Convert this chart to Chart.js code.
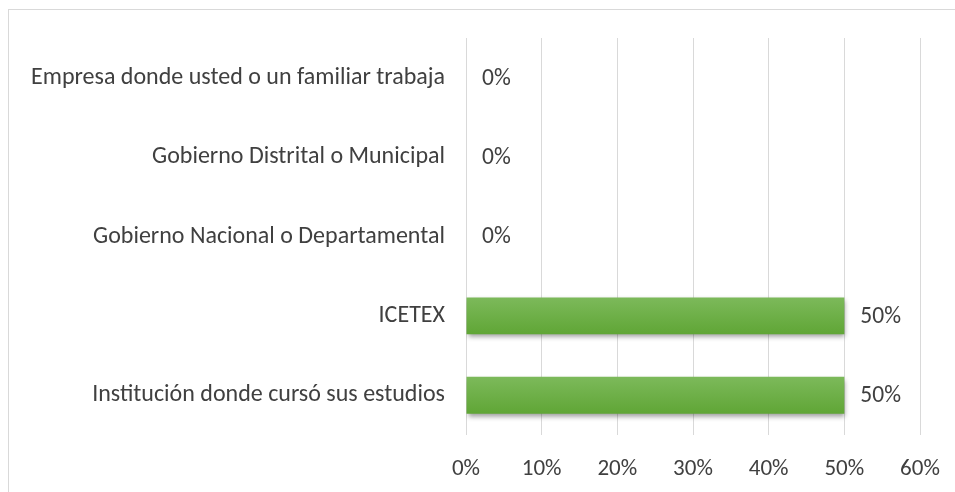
<!DOCTYPE html>
<html><head><meta charset="utf-8">
<script src="https://cdn.jsdelivr.net/npm/chart.js@4"></script>
<style>html,body{margin:0;padding:0;background:#fff}#w{width:955px;height:492px}</style>
</head><body><div id="w"><canvas id="c"></canvas></div>
<script>
const categories = [
  "Empresa donde usted o un familiar trabaja",
  "Gobierno Distrital o Municipal",
  "Gobierno Nacional o Departamental",
  "ICETEX",
  "Institución donde cursó sus estudios"
];
const values = [0, 0, 0, 0.5, 0.5];
const tickValues = [0, 0.1, 0.2, 0.3, 0.4, 0.5, 0.6];
const FONT = "Carlito, Calibri, Lato, sans-serif";

const framePlugin = {
  id: 'frame',
  beforeDraw(chart){
    const ctx = chart.ctx;
    ctx.save();
    ctx.strokeStyle = '#d9d9d9';
    ctx.lineWidth = 1;
    ctx.strokeRect(8.5, 9.5, 1200, 1200);
    ctx.restore();
  }
};
const shadowPlugin = {
  id: 'shadow',
  beforeDatasetsDraw(chart){
    const ctx = chart.ctx;
    ctx.save();
    ctx.shadowColor = 'rgba(0,0,0,0.4)';
    ctx.shadowBlur = 5;
    ctx.shadowOffsetX = 1;
    ctx.shadowOffsetY = 3;
  },
  afterDatasetsDraw(chart){
    chart.ctx.restore();
  }
};
const labelPlugin = {
  id: 'lbl',
  afterDatasetsDraw(chart){
    const ctx = chart.ctx;
    const meta = chart.getDatasetMeta(0);
    ctx.save();
    ctx.font = "23.5px " + FONT;
    ctx.fillStyle = '#404040';
    ctx.textAlign = 'left';
    ctx.textBaseline = 'middle';
    meta.data.forEach((bar, i) => {
      ctx.fillText(Math.round(values[i]*100) + '%', bar.x + 16, bar.y + 1);
    });
    ctx.restore();
  }
};

new Chart(document.getElementById('c'), {
  type: 'bar',
  data: {
    labels: categories,
    datasets: [{
      data: values,
      backgroundColor: (c) => {
        const ys = c.chart.scales && c.chart.scales.y;
        if (!ys || c.dataIndex === undefined) return '#6aaf3f';
        const cy = ys.getPixelForValue(c.dataIndex);
        if (!isFinite(cy)) return '#6aaf3f';
        const g = c.chart.ctx.createLinearGradient(0, cy - 18, 0, cy + 18);
        g.addColorStop(0, '#7cb95a');
        g.addColorStop(1, '#60a636');
        return g;
      },
      borderWidth: 0,
      categoryPercentage: 0.93,
      barPercentage: 0.5
    }]
  },
  options: {
    indexAxis: 'y',
    responsive: true,
    maintainAspectRatio: false,
    animation: false,
    layout: { padding: { left: 0, right: 35, top: 38, bottom: 0 } },
    plugins: { legend: { display: false }, tooltip: { enabled: false } },
    scales: {
      x: {
        min: 0, max: 0.6,
        afterBuildTicks(axis){ axis.ticks = tickValues.map(v => ({ value: v })); },
        afterFit(axis){ axis.height = 57; axis.paddingLeft = 0; axis.paddingRight = 0; },
        grid: { color: '#d9d9d9', drawTicks: false, lineWidth: 1 },
        border: { display: false },
        ticks: {
          padding: 20,
          color: '#404040',
          font: { family: FONT, size: 23 },
          callback: (v) => Math.round(v*100) + '%'
        }
      },
      y: {
        afterFit(axis){ axis.width = 466; axis.paddingTop = 0; axis.paddingBottom = 0; },
        grid: { display: false, drawTicks: false },
        border: { display: false },
        ticks: {
          padding: 21,
          color: '#404040',
          font: { family: FONT, size: 24 }
        }
      }
    }
  },
  plugins: [framePlugin, shadowPlugin, labelPlugin]
});
</script>
</body></html>
